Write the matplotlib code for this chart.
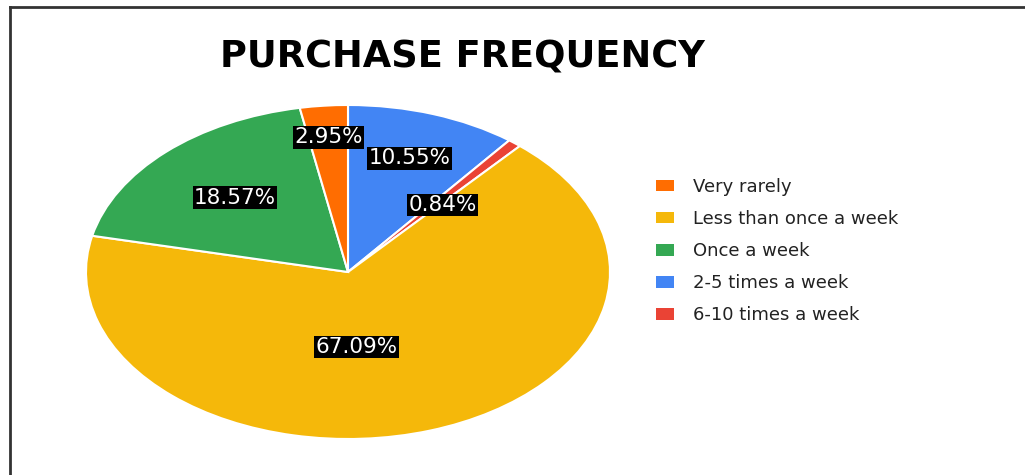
import numpy as np
import matplotlib
matplotlib.use("Agg")
import matplotlib.pyplot as plt
from matplotlib.lines import Line2D
from matplotlib.patches import Patch

plt.rcParams['font.family'] = ['DejaVu Sans']

# Slices in drawing order (clockwise from 12 o'clock)
slice_labels = ["2-5 times a week", "6-10 times a week", "Less than once a week",
                "Once a week", "Very rarely"]
slice_values = [10.55, 0.84, 67.09, 18.57, 2.95]
slice_colors = ["#4285F4", "#EA4335", "#F5B80A", "#34A853", "#FF6D01"]

# Legend order
legend_order = ["Very rarely", "Less than once a week", "Once a week",
                "2-5 times a week", "6-10 times a week"]

# Label placement relative to each wedge: (radial fraction, angular shift in degrees)
label_place = [(0.72, 0.0), (0.54, -2.5), (0.45, -14.0), (0.62, 0.0), (0.81, 0.0)]

W, H = 1025, 475
fig = plt.figure(figsize=(W / 100, H / 100), dpi=100)
fig.patch.set_facecolor("white")

# Pie area: elliptical, so the axes aspect is left free
cx, cy, rx, ry = 348, 272, 262, 167
ax = fig.add_axes([(cx - rx) / W, (H - cy - ry) / H, 2 * rx / W, 2 * ry / H])
wedges, _ = ax.pie(slice_values, colors=slice_colors, startangle=90, counterclock=False,
                   radius=1.0, wedgeprops=dict(edgecolor="white", linewidth=1.5))
ax.set_xlim(-1, 1)
ax.set_ylim(-1, 1)
ax.set_aspect("auto")
ax.axis("off")

for w, v, (r, shift) in zip(wedges, slice_values, label_place):
    ang = np.deg2rad((w.theta1 + w.theta2) / 2 + shift)
    ax.text(r * np.cos(ang), r * np.sin(ang), f"{v:.2f}%", ha="center", va="center",
            color="white", fontsize=15.5,
            bbox=dict(boxstyle="square,pad=0.06", facecolor="black", edgecolor="none"))

# Title
fig.text(462 / W, 1 - 57 / H, "PURCHASE FREQUENCY", ha="center", va="center",
         fontsize=26.5, fontweight="bold", color="black")

# Legend
handle_map = {lab: Patch(facecolor=c, edgecolor="none")
              for lab, c in zip(slice_labels, slice_colors)}
fig.legend([handle_map[l] for l in legend_order], legend_order,
           loc="upper left", bbox_to_anchor=(656 / W, 1 - 178 / H),
           frameon=False, fontsize=13, handlelength=1.0, handleheight=0.6,
           handletextpad=1.05, labelspacing=0.78, borderpad=0, borderaxespad=0,
           labelcolor="#222222")

# Frame lines along the top and left edges
fig.add_artist(Line2D([9.5 / W, 9.5 / W], [0, 1 - 7 / H], transform=fig.transFigure,
                      color="#333333", linewidth=2))
fig.add_artist(Line2D([9.5 / W, 1], [1 - 7 / H, 1 - 7 / H], transform=fig.transFigure,
                      color="#333333", linewidth=2))

fig.savefig("out.png", dpi=100, facecolor="white")
